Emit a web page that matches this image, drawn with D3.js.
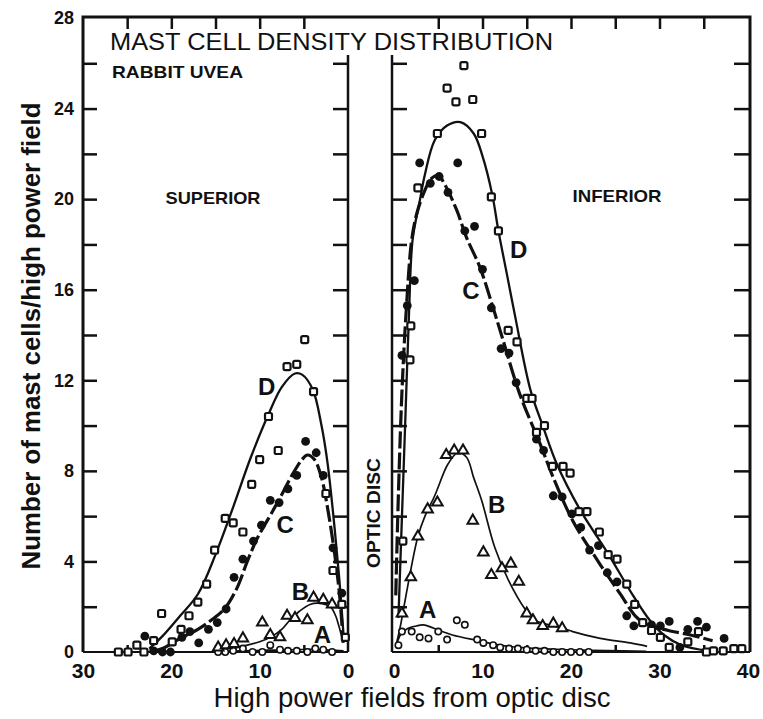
<!DOCTYPE html>
<html>
<head>
<meta charset="utf-8">
<script src="https://cdn.jsdelivr.net/npm/d3@7/dist/d3.min.js"></script>
<style>
  body { margin: 0; background: #fff; }
  text { font-family: "Liberation Sans", Arial, Helvetica, sans-serif; fill: #111; }
</style>
</head>
<body>
<div id="chart"></div>
<script>
const width = 763, height = 719;

// tick labels
const yTickLabels = [0, 4, 8, 12, 16, 20, 24, 28];
const supTickLabels = [30, 20, 10, 0];
const infTickLabels = [0, 10, 20, 30, 40];

// superior side: [fields from disc, mast cells / field]
const supA = [[14.7,0],[13.9,0],[13.0,0.05],[11.9,0.15],[10.8,0],[9.7,0],[8.8,0.3],[7.7,0.1],[6.8,0.05],[5.8,0.05],[4.6,0],[3.7,0.15],[2.8,0.1],[1.8,0]];
const supB = [[14.7,0.2],[13.8,0.3],[12.9,0.35],[11.9,0.6],[9.7,1.3],[8.8,0.75],[7.7,0.65],[6.9,1.6],[6.0,1.5],[4.6,1.4],[3.9,2.4],[2.8,2.3],[1.8,2.1]];
const supC = [[23.0,0.7],[22.0,0.05],[21.0,0],[20.1,0],[18.8,0.65],[17.9,0.9],[16.9,0.4],[15.8,1.0],[14.8,1.3],[13.8,1.9],[12.9,3.3],[11.9,4.1],[10.7,4.9],[9.8,5.6],[8.8,6.7],[7.8,6.6],[6.8,7.2],[5.8,7.8],[4.8,9.3],[3.6,8.8],[2.8,7.8],[1.7,4.6],[0.7,2.6]];
const supD = [[26.0,0],[24.9,0],[23.9,0.3],[23.1,0],[22.0,0.5],[21.1,1.7],[19.9,0.45],[18.9,1.0],[18.0,1.6],[17.0,2.2],[16.0,3.0],[15.1,4.5],[13.9,5.9],[13.0,5.7],[11.9,5.3],[10.9,7.4],[10.0,8.5],[9.0,10.4],[7.9,8.9],[6.9,12.6],[5.8,12.7],[4.9,13.8],[3.9,11.5],[2.5,7.0],[1.7,3.6],[0.7,2.1],[0.3,0.65]];

// superior fitted curves
const supFitA = [[15,0.02],[12,0.05],[9,0.08],[6,0.1],[4,0.12],[2,0.08],[0.5,0.05]];
const supFitB = [[13,0.15],[12,0.25],[10,0.45],[8.8,0.65],[7.5,1.0],[6.6,1.4],[5.5,1.8],[4.3,2.1],[3.2,2.15],[2.0,2.0],[1.4,1.6],[1.0,1.1],[0.6,0.5]];
const supFitC = [[22,0.05],[21,0.15],[19,0.6],[17,1.0],[15.5,1.4],[14,1.9],[12.6,2.8],[11.4,4.0],[10.3,5.0],[9,5.9],[7.7,6.8],[6.2,7.9],[5.2,8.5],[4.6,8.7],[3.8,8.5],[3.0,7.7],[2.2,6.1],[1.5,4.3],[1.0,2.7],[0.7,1.3],[0.55,0.4]];
const supFitD = [[22.5,0.15],[21,0.7],[19,1.6],[17,2.55],[15,4.3],[13,6.4],[11,8.6],[9,10.5],[7.5,11.7],[6,12.3],[5.2,12.25],[4,11.6],[3,10.0],[2.3,8.3],[1.5,5.4],[1.0,3.3],[0.7,1.8],[0.5,0.7]];

// inferior side
const infA = [[0.5,0.3],[0.9,0.9],[2.0,0.9],[2.9,0.65],[3.9,0.6],[5.0,0.9],[6.0,0.55],[7.1,1.4],[8.0,1.2],[9.4,0.55],[10.1,0.4],[11.2,0.3],[12.0,0.2],[13.0,0.15],[14.0,0.15],[15.0,0.1],[16.0,0.05],[17.0,0.05],[18.0,0],[19.0,0],[20.0,0],[21.0,0],[22.0,0]];
const infB = [[0.9,1.7],[1.9,3.3],[2.7,5.1],[3.8,6.3],[4.9,6.6],[5.9,8.7],[6.8,8.9],[7.8,8.9],[8.9,5.8],[10.1,4.4],[11.0,3.4],[12.2,3.7],[13.2,3.9],[14.1,3.1],[15.0,1.7],[15.7,1.4],[16.8,1.15],[18.0,1.25],[19.0,1.05]];
const infC = [[0.9,13.1],[1.5,15.3],[2.3,16.4],[2.9,21.6],[4.1,20.7],[5.1,21.0],[6.1,20.3],[7.2,21.6],[8.0,18.6],[9.1,18.8],[10.0,16.9],[11.0,15.2],[12.1,13.4],[13.0,13.2],[13.8,11.9],[16.1,9.4],[16.9,8.9],[18.0,6.9],[19.0,6.85],[20.1,6.1],[21.1,5.5],[22.1,4.5],[23.1,4.7],[24.1,3.5],[25.2,3.1],[26.3,1.6],[27.1,1.15],[29.1,1.2],[30.1,1.15],[31.1,1.35],[32.3,0.2],[33.2,1.0],[34.3,1.35],[35.3,1.1],[37.3,0.6]];
const infD = [[1.0,4.9],[1.8,12.9],[1.9,14.4],[2.7,20.5],[4.9,22.9],[6.0,24.9],[7.0,24.3],[7.9,25.9],[8.9,24.4],[9.9,22.9],[11.0,20.1],[11.8,18.6],[12.9,14.2],[13.9,13.7],[15.0,11.2],[15.6,11.2],[16.1,9.7],[17.0,10.0],[17.9,8.2],[19.1,8.2],[19.9,7.9],[20.9,6.2],[21.8,6.2],[23.2,5.3],[24.2,4.3],[25.2,4.1],[26.3,3.0],[27.2,2.1],[28.1,1.3],[29.1,0.95],[30.1,0.65],[31.1,0.2],[33.2,0.45],[34.4,0.9],[35.3,0],[36.1,0.05],[37.2,0.05],[38.4,0.15],[39.3,0.15]];

// inferior fitted curves
const infFitA = [[0.3,0.35],[0.8,0.8],[1.6,1.05],[2.5,1.15],[3.3,1.2],[4.5,1.05],[6.6,0.75],[9.5,0.5],[12,0.3],[15,0.18],[20,0.1],[24,0.06],[28.5,0.03]];
const infFitB = [[0.3,0.4],[0.8,1.3],[1.5,2.8],[2.7,5.1],[3.5,6.0],[4.6,6.9],[6.1,8.3],[7.2,8.8],[8.2,8.6],[9.0,7.7],[9.9,6.7],[11.4,4.6],[12.9,3.2],[14.8,1.9],[15.9,1.4],[17.5,1.2],[19.1,1.05],[20.2,0.9],[23.3,0.6],[26.7,0.4],[28.6,0.25]];
const infFitC = [[0.2,2.5],[0.5,7],[0.9,11.5],[1.4,15.2],[2.0,18.2],[2.6,19.4],[3.5,20.4],[4.2,20.9],[5.0,21.05],[5.8,20.6],[7.1,19.5],[8.2,18.3],[9.7,17.0],[11.2,15.2],[12.3,13.8],[14.2,11.4],[16.5,9.2],[18.0,7.7],[20.2,5.8],[22.9,4.1],[25.5,2.6],[27.5,1.5],[29,1.15],[31,0.95],[33.5,0.75],[36,0.5]];
const infFitD = [[0.5,1.5],[0.9,6],[1.3,10.5],[1.7,15],[2.1,18.2],[2.9,19.9],[3.5,21.1],[4.6,22.6],[6,23.25],[7.5,23.4],[9,22.9],[10,21.9],[11.1,20.2],[11.8,18.6],[12.8,16.6],[13.7,14.8],[15.4,11.6],[16.8,10.0],[18.4,8.3],[21,6.3],[24.1,4.4],[27,2.5],[28.9,1.4],[30.5,0.75],[32.5,0.3],[35.5,0.05]];

// curve letters, anchored in data space: [letter, side, x, y]
const curveLabels = [["D","sup",9.2,11.35],["C","sup",7.1,5.25],["B","sup",5.4,2.3],["A","sup",2.9,0.4],
                     ["D","inf",14.1,17.4],["C","inf",8.7,15.6],["B","inf",11.6,6.15],["A","inf",3.8,1.5]];

let svg = d3.select("#chart")
  .append("svg")
  .attr("width", width)
  .attr("height", height);

svg.append("rect").attr("width", width).attr("height", height).attr("fill", "#fff");

let xSup = d3.scaleLinear().domain([30, 0]).range([83, 348]);
let xInf = d3.scaleLinear().domain([0, 40]).range([394, 748]);
let y = d3.scaleLinear().domain([0, 28]).range([652, 18]);

// frame
let frame = svg.append("g").attr("stroke", "#111").attr("fill", "none").attr("stroke-width", 3);
frame.append("path").attr("d", "M83," + y(0) + "V17H750V" + y(0));
frame.append("line").attr("x1", 83).attr("x2", 348).attr("y1", y(0)).attr("y2", y(0)).attr("stroke-width", 2);
frame.append("line").attr("x1", 392).attr("x2", 750).attr("y1", y(0)).attr("y2", y(0)).attr("stroke-width", 2);
frame.append("line").attr("x1", 348).attr("x2", 348).attr("y1", 55).attr("y2", y(0)).attr("stroke-width", 2.5);
frame.append("line").attr("x1", 392).attr("x2", 392).attr("y1", 55).attr("y2", y(0)).attr("stroke-width", 2.5);

// tick marks only
function ticks(axis, tx, ty) {
  svg.append("g")
    .attr("transform", "translate(" + tx + "," + ty + ")")
    .call(axis.tickFormat(""))
    .call(g => g.select(".domain").remove())
    .call(g => g.selectAll("line").attr("stroke", "#111").attr("stroke-width", 2.5));
}
const minor = d3.range(2, 28, 2);
ticks(d3.axisRight(y).tickValues(minor).tickSize(14), 83, 0);
ticks(d3.axisLeft(y).tickValues(minor).tickSize(15), 348, 0);
ticks(d3.axisRight(y).tickValues(minor).tickSize(15), 392, 0);
ticks(d3.axisLeft(y).tickValues(minor).tickSize(16), 750, 0);
ticks(d3.axisBottom(xSup).tickValues([25, 20, 15, 10, 5]).tickSize(12), 0, 17);
ticks(d3.axisBottom(xInf).tickValues([5, 10, 15, 20, 25, 30, 35]).tickSize(12), 0, 17);
ticks(d3.axisTop(xSup).tickValues([25, 15, 5]).tickSize(7), 0, y(0));
ticks(d3.axisTop(xInf).tickValues([5, 15, 25, 35]).tickSize(7), 0, y(0));

// tick labels
function labels(axis, tx, ty, size) {
  svg.append("g")
    .attr("transform", "translate(" + tx + "," + ty + ")")
    .call(axis.tickSize(0))
    .call(g => g.select(".domain").remove())
    .call(g => g.selectAll("text")
      .attr("font-family", '"Liberation Sans", Arial, sans-serif')
      .attr("font-size", size).attr("font-weight", "bold").attr("fill", "#111"));
}
labels(d3.axisLeft(y).tickValues(yTickLabels).tickPadding(9), 83, 0, 18);
labels(d3.axisBottom(xSup).tickValues(supTickLabels).tickPadding(11), 0, y(0), 21);
labels(d3.axisBottom(xInf).tickValues(infTickLabels).tickPadding(11), 0, y(0), 21);

// fitted curves
function fit(xs, pts, style) {
  let line = d3.line()
    .x(d => xs(d[0]))
    .y(d => y(d[1]))
    .curve(d3.curveCatmullRom.alpha(0.5));
  svg.append("path")
    .datum(pts)
    .attr("d", line)
    .attr("fill", "none")
    .attr("stroke", "#111")
    .attr("stroke-width", style.w)
    .attr("stroke-dasharray", style.dash || null);
}
const thin = {w: 1.7}, solidD = {w: 2.3}, dashC = {w: 3.2, dash: "17,4"};
fit(xSup, supFitA, thin); fit(xSup, supFitB, thin); fit(xSup, supFitC, dashC); fit(xSup, supFitD, solidD);
fit(xInf, infFitA, thin); fit(xInf, infFitB, thin); fit(xInf, infFitC, dashC); fit(xInf, infFitD, solidD);

// markers
function marks(xs, pts, kind) {
  let g = svg.append("g").attr("class", "marks-" + kind);
  let sel = g.selectAll("g").data(pts).enter().append("g")
    .attr("transform", d => "translate(" + xs(d[0]) + "," + y(d[1]) + ")");
  if (kind === "A") {
    sel.append("circle").attr("r", 3.2).attr("fill", "#fff").attr("stroke", "#111").attr("stroke-width", 1.6);
  } else if (kind === "B") {
    sel.append("path").attr("d", d3.symbol(d3.symbolTriangle, 48)).attr("fill", "#fff")
      .attr("stroke", "#111").attr("stroke-width", 2);
  } else if (kind === "C") {
    sel.append("circle").attr("r", 4.4).attr("fill", "#111");
  } else {
    sel.append("rect").attr("x", -3.5).attr("y", -3.5).attr("width", 7).attr("height", 7).attr("rx", 1.6)
      .attr("fill", "#fff").attr("stroke", "#111").attr("stroke-width", 2.2);
  }
}
marks(xSup, supA, "A"); marks(xSup, supB, "B"); marks(xSup, supC, "C"); marks(xSup, supD, "D");
marks(xInf, infA, "A"); marks(xInf, infB, "B"); marks(xInf, infC, "C"); marks(xInf, infD, "D");

// curve letters
svg.append("g").selectAll("text").data(curveLabels).enter().append("text")
  .attr("x", d => (d[1] === "sup" ? xSup : xInf)(d[2]))
  .attr("y", d => y(d[3]))
  .attr("text-anchor", "middle")
  .attr("font-size", 24).attr("font-weight", "bold")
  .text(d => d[0]);

// titles and axis labels
function txt(s, x, yy, size, weight, len, anchor) {
  return svg.append("text").attr("x", x).attr("y", yy)
    .attr("font-size", size).attr("font-weight", weight)
    .attr("text-anchor", anchor || "start")
    .attr("textLength", len).attr("lengthAdjust", "spacingAndGlyphs")
    .text(s);
}
txt("MAST CELL DENSITY DISTRIBUTION", 110, 50, 24, "normal", 443);
txt("RABBIT UVEA", 112, 78, 17, "bold", 131);
txt("SUPERIOR", 213, 204, 17, "bold", 95, "middle");
txt("INFERIOR", 617, 202, 17, "bold", 89, "middle");
txt("High power fields from optic disc", 412, 707, 27, "normal", 397, "middle");

svg.append("text")
  .attr("transform", "translate(380,513) rotate(-90)")
  .attr("text-anchor", "middle").attr("font-size", 19).attr("font-weight", "bold")
  .attr("textLength", 110).attr("lengthAdjust", "spacingAndGlyphs")
  .text("OPTIC DISC");

svg.append("text")
  .attr("transform", "translate(40,336) rotate(-90)")
  .attr("text-anchor", "middle").attr("font-size", 26).attr("font-weight", "bold")
  .attr("textLength", 467).attr("lengthAdjust", "spacingAndGlyphs")
  .text("Number of mast cells/high power field");
</script>
</body>
</html>
